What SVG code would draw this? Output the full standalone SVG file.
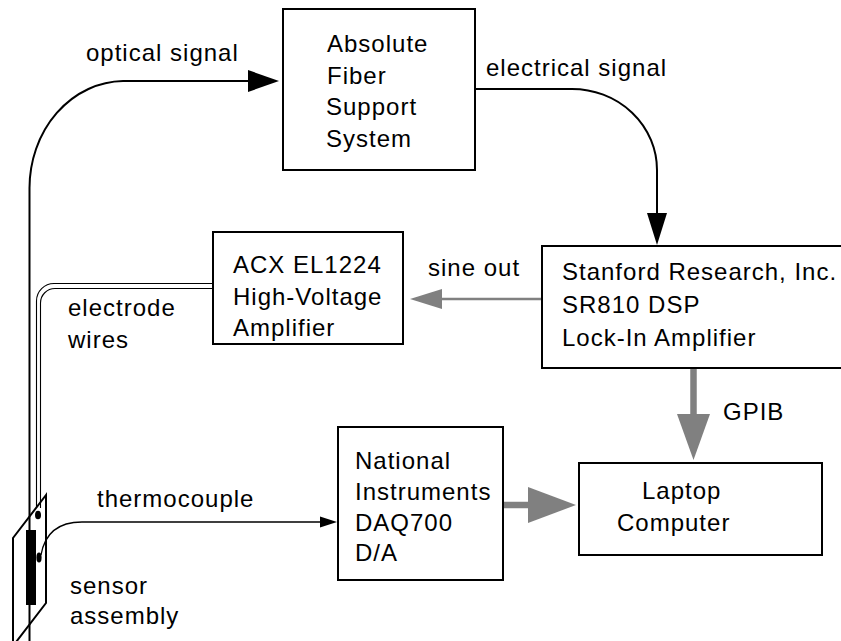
<svg xmlns="http://www.w3.org/2000/svg" width="841" height="641" viewBox="0 0 841 641">
<style>
text{font-family:"Liberation Sans",Arial,Helvetica,sans-serif;font-size:24px;letter-spacing:1px;fill:#000}
.box{fill:#fff;stroke:#000;stroke-width:2}
.wire{fill:none;stroke:#000;stroke-width:2}
.thin{fill:none;stroke:#000;stroke-width:1.3}
.el{fill:none;stroke:#000;stroke-width:1.1}
.gray{fill:none;stroke:#808080}
.gh{fill:#808080;stroke:none}
.bh{fill:#000;stroke:none}
</style>
<rect width="841" height="641" fill="#fff"/>
<g id="connectors">
  <path class="wire" d="M29.5,641 L29.5,188 A95,107 0 0 1 123,81 L250,81"/>
  <polygon class="bh" points="279,81 248,70 248,92"/>
  <path class="wire" d="M475,89 L572,89 A85,81 0 0 1 657,170 L657,215"/>
  <polygon class="bh" points="657,245 647,213 667,213"/>
  <path class="gray" stroke-width="2.5" d="M542,299 L440,299"/>
  <polygon class="gh" points="410,299 442,289 442,309"/>
  <path class="gray" stroke-width="6.5" d="M693.5,369 L693.5,416"/>
  <polygon class="gh" points="693.5,460 677,414 710,414"/>
  <path class="gray" stroke-width="6.5" d="M504,505 L530,505"/>
  <polygon class="gh" points="576,505 528,487 528,523"/>
  <path class="el" d="M36.5,508 L36.5,301 A17.5,17.5 0 0 1 54,283.5 L213,283.5"/>
  <path class="el" d="M40.5,508 L40.5,303 A14.5,14.5 0 0 1 55,288.5 L213,288.5"/>
  <path class="thin" d="M41,555 C45,532 60,522 82,522 L322,522"/>
  <polygon class="bh" points="337,522 320,516.5 320,527.5"/>
</g>
<g id="sensor">
  <polygon points="46,495 13,538 13,646 46,603" fill="none" stroke="#000" stroke-width="2"/>
  <rect x="26" y="530" width="10" height="75" fill="#000"/>
  <ellipse cx="38" cy="515" rx="3" ry="4.3" fill="#000"/>
  <ellipse cx="39" cy="557.5" rx="2.6" ry="5" fill="#000"/>
</g>
<g id="absolute">
  <rect class="box" x="283" y="9" width="192" height="161"/>
  <text x="327" y="52">Absolute</text>
  <text x="327" y="83.5">Fiber</text>
  <text x="326" y="115">Support</text>
  <text x="326" y="146.5">System</text>
</g>
<g id="stanford">
  <rect class="box" x="542" y="246" width="302" height="122"/>
  <text x="562" y="280">Stanford Research, Inc.</text>
  <text x="562" y="313">SR810 DSP</text>
  <text x="562" y="346">Lock-In Amplifier</text>
</g>
<g id="acx">
  <rect class="box" x="213" y="232" width="190" height="112"/>
  <text x="233" y="273">ACX EL1224</text>
  <text x="233" y="304.5">High-Voltage</text>
  <text x="233" y="336">Amplifier</text>
</g>
<g id="national">
  <rect class="box" x="338" y="427" width="165" height="153"/>
  <text x="355" y="469">National</text>
  <text x="355" y="500">Instruments</text>
  <text x="355" y="531">DAQ700</text>
  <text x="355" y="561">D/A</text>
</g>
<g id="laptop">
  <rect class="box" x="579" y="463" width="243" height="92"/>
  <text x="642" y="499">Laptop</text>
  <text x="617" y="531">Computer</text>
</g>
<g id="labels">
  <text x="86" y="61">optical signal</text>
  <text x="486" y="76">electrical signal</text>
  <text x="428" y="276">sine out</text>
  <text x="68" y="316">electrode</text>
  <text x="68" y="348">wires</text>
  <text x="723" y="420">GPIB</text>
  <text x="97" y="507">thermocouple</text>
  <text x="70" y="594">sensor</text>
  <text x="70" y="624">assembly</text>
</g>
</svg>
